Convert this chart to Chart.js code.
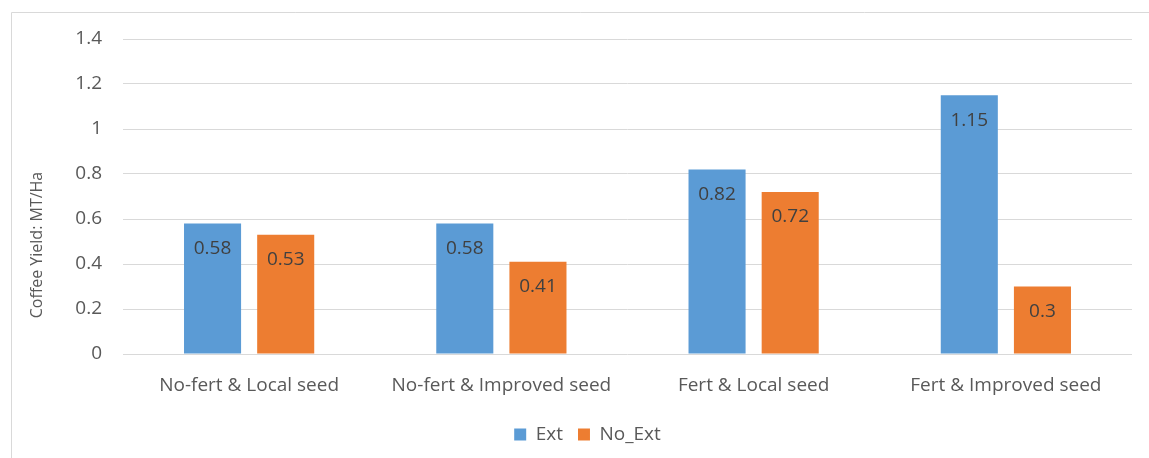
<!DOCTYPE html>
<html>
<head>
<meta charset="utf-8">
<script src="https://cdn.jsdelivr.net/npm/chart.js@4.4.1/dist/chart.umd.min.js"></script>
<style>
  html, body { margin: 0; padding: 0; background: #ffffff; }
  #wrap { width: 1149px; height: 458px; position: relative; }
</style>
</head>
<body>
<div id="wrap"><canvas id="chart" width="1149" height="458"></canvas></div>
<script>
// Coffee yield by fertilizer / seed combination, with and without extension
const categories = ['No-fert & Local seed', 'No-fert & Improved seed', 'Fert & Local seed', 'Fert & Improved seed'];
const extValues = [0.58, 0.58, 0.82, 1.15];
const noExtValues = [0.53, 0.41, 0.72, 0.3];
const yTickValues = [0, 0.2, 0.4, 0.6, 0.8, 1, 1.2, 1.4];
const seriesNames = ['Ext', 'No_Ext'];
const yAxisTitle = 'Coffee Yield: MT/Ha';

const FONT = "'Open Sans', 'Noto Sans', sans-serif";
const TEXT_SIZE = 19;
const CANVAS_H = 458;
const PLOT_LEFT = 123;
const PLOT_BOTTOM = 354;
const PAD = { left: 43, right: 17, top: 39, bottom: 4 };

// Light frame along the top and left edges
const framePlugin = {
  id: 'frame',
  beforeDraw(chart) {
    const ctx = chart.ctx;
    ctx.save();
    ctx.strokeStyle = '#d9d9d9';
    ctx.lineWidth = 1;
    ctx.beginPath();
    ctx.moveTo(11.5, chart.height);
    ctx.lineTo(11.5, 12.5);
    ctx.lineTo(chart.width, 12.5);
    ctx.stroke();
    ctx.restore();
  }
};

// Rotated value-axis title
const axisTitlePlugin = {
  id: 'axisTitle',
  afterDraw(chart) {
    const ctx = chart.ctx;
    ctx.save();
    ctx.translate(37, 245);
    ctx.rotate(-Math.PI / 2);
    ctx.font = "16px " + FONT;
    ctx.fillStyle = '#595959';
    ctx.textAlign = 'center';
    ctx.textBaseline = 'middle';
    ctx.fillText(yAxisTitle, 0, 0);
    ctx.restore();
  }
};

// Value labels placed inside each bar, just below its top
const valueLabelPlugin = {
  id: 'valueLabels',
  afterDatasetsDraw(chart) {
    const ctx = chart.ctx;
    ctx.save();
    ctx.font = TEXT_SIZE + "px " + FONT;
    ctx.fillStyle = '#404040';
    ctx.textAlign = 'center';
    ctx.textBaseline = 'middle';
    chart.data.datasets.forEach((ds, di) => {
      const meta = chart.getDatasetMeta(di);
      meta.data.forEach((bar, i) => {
        ctx.fillText(String(ds.data[i]), bar.x, bar.y + 25);
      });
    });
    ctx.restore();
  }
};

new Chart(document.getElementById('chart'), {
  type: 'bar',
  data: {
    labels: categories,
    datasets: [
      { label: seriesNames[0], data: extValues, backgroundColor: '#5b9bd5', borderWidth: 0 },
      { label: seriesNames[1], data: noExtValues, backgroundColor: '#ed7d31', borderWidth: 0 }
    ]
  },
  options: {
    responsive: false,
    animation: false,
    devicePixelRatio: 1,
    categoryPercentage: 0.58,
    barPercentage: 0.78,
    layout: { padding: PAD },
    plugins: {
      legend: {
        position: 'bottom',
        labels: {
          boxWidth: 12,
          boxHeight: 12,
          padding: 15,
          color: '#595959',
          font: { family: FONT, size: TEXT_SIZE }
        }
      },
      tooltip: { enabled: false }
    },
    scales: {
      x: {
        grid: { display: false, drawTicks: false },
        border: { display: false },
        ticks: {
          color: '#595959',
          padding: 20,
          maxRotation: 0,
          autoSkip: false,
          font: { family: FONT, size: TEXT_SIZE }
        },
        afterFit(scale) {
          const legendH = scale.chart.legend ? scale.chart.legend.height : 0;
          scale.height = CANVAS_H - PLOT_BOTTOM - PAD.bottom - legendH;
        }
      },
      y: {
        min: 0,
        max: 1.4,
        grid: { color: '#d9d9d9', lineWidth: 1, drawTicks: false },
        border: { display: false },
        ticks: {
          color: '#595959',
          padding: 21,
          font: { family: FONT, size: TEXT_SIZE },
          callback: (v) => String(Math.round(v * 10) / 10)
        },
        afterBuildTicks(scale) {
          scale.ticks = yTickValues.map(v => ({ value: v }));
        },
        afterFit(scale) {
          scale.width = PLOT_LEFT - PAD.left;
        }
      }
    }
  },
  plugins: [framePlugin, axisTitlePlugin, valueLabelPlugin]
});
</script>
</body>
</html>
